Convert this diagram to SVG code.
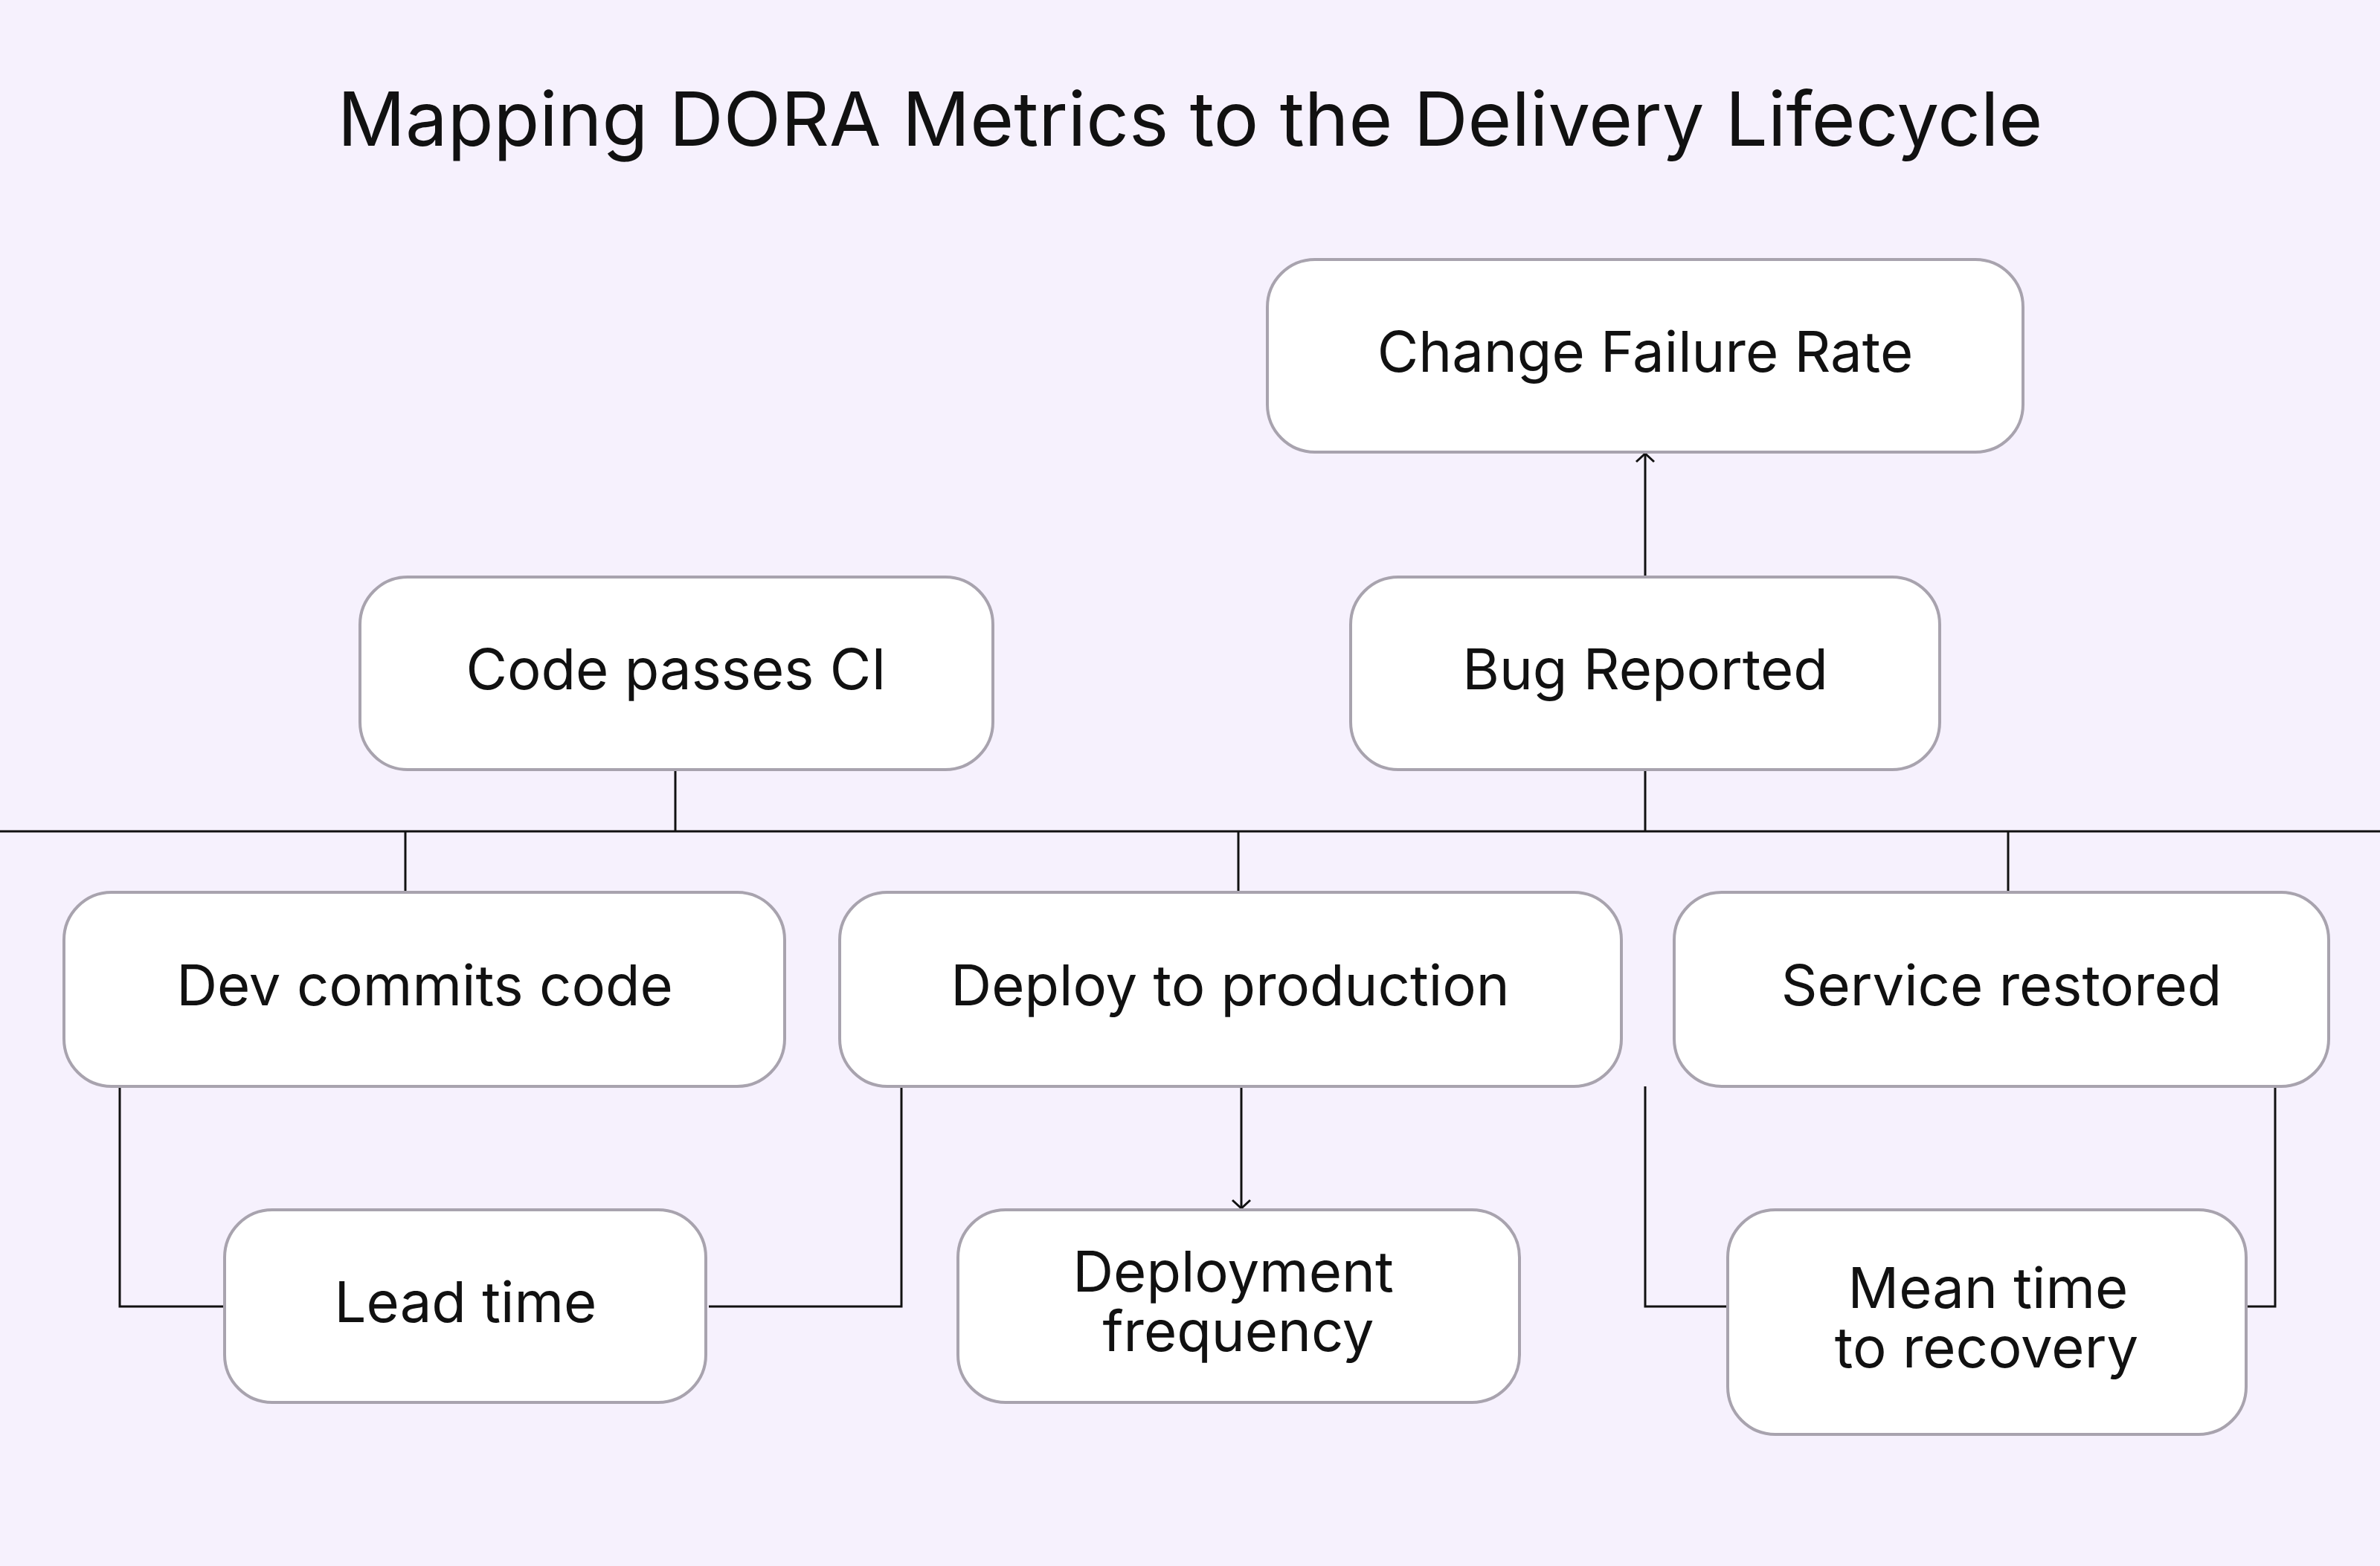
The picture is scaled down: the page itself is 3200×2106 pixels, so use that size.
<svg xmlns="http://www.w3.org/2000/svg" width="3200" height="2106" viewBox="0 0 3200 2106">
<style>
.b{fill:#fff;stroke:#a8a3ae;stroke-width:4}
.t{font-family:Inter,"Liberation Sans",sans-serif;font-size:76px;fill:#111;text-anchor:middle}
.c{fill:none;stroke:#111;stroke-width:3}
</style>
<defs><marker id="a" viewBox="0 0 28 28" refX="14" refY="14" markerWidth="28" markerHeight="28" markerUnits="userSpaceOnUse" orient="auto"><path d="M3,2 L14,14 L3,26" fill="none" stroke="#111" stroke-width="3"/></marker></defs>
<rect width="3200" height="2106" fill="#f6f1fd"/>
<text x="1600" y="196" font-family="Inter,'Liberation Sans',sans-serif" font-size="101" fill="#111" text-anchor="middle">Mapping DORA Metrics to the Delivery Lifecycle</text>
<g id="connectors">
<line class="c" x1="0" y1="1118" x2="3200" y2="1118"/>
<line class="c" x1="908" y1="1035" x2="908" y2="1118"/>
<line class="c" x1="2212" y1="1035" x2="2212" y2="1118"/>
<line class="c" x1="545" y1="1118" x2="545" y2="1200"/>
<line class="c" x1="1665" y1="1118" x2="1665" y2="1200"/>
<line class="c" x1="2700" y1="1118" x2="2700" y2="1200"/>
<line class="c" x1="2212" y1="776" x2="2212" y2="610" marker-end="url(#a)"/>
<line class="c" x1="1669" y1="1461" x2="1669" y2="1625" marker-end="url(#a)"/>
<polyline class="c" points="161,1461 161,1757 302,1757"/>
<polyline class="c" points="1212,1461 1212,1757 953,1757"/>
<polyline class="c" points="2212,1461 2212,1757 2323,1757"/>
<polyline class="c" points="3059,1461 3059,1757 3014,1757"/>
</g>
<g id="cfr"><rect class="b" x="1704" y="349" width="1016" height="259" rx="64"/><text class="t" x="2212" y="500">Change Failure Rate</text></g>
<g id="ci"><rect class="b" x="484" y="776" width="851" height="259" rx="64"/><text class="t" x="909" y="927">Code passes CI</text></g>
<g id="bug"><rect class="b" x="1816" y="776" width="792" height="259" rx="64"/><text class="t" x="2212" y="927">Bug Reported</text></g>
<g id="dev"><rect class="b" x="86" y="1200" width="969" height="261" rx="64"/><text class="t" x="571" y="1352">Dev commits code</text></g>
<g id="deploy"><rect class="b" x="1129" y="1200" width="1051" height="261" rx="64"/><text class="t" x="1654" y="1352">Deploy to production</text></g>
<g id="service"><rect class="b" x="2251" y="1200" width="880" height="261" rx="64"/><text class="t" x="2691" y="1352">Service restored</text></g>
<g id="lead"><rect class="b" x="302" y="1627" width="647" height="259" rx="64"/><text class="t" x="626" y="1778">Lead time</text></g>
<g id="df"><rect class="b" x="1288" y="1627" width="755" height="259" rx="64"/><text class="t" x="1658" y="1737">Deployment</text><text class="t" x="1665" y="1817">frequency</text></g>
<g id="mttr"><rect class="b" x="2323" y="1627" width="697" height="302" rx="64"/><text class="t" x="2673" y="1759">Mean time</text><text class="t" x="2671" y="1839">to recovery</text></g>
</svg>
